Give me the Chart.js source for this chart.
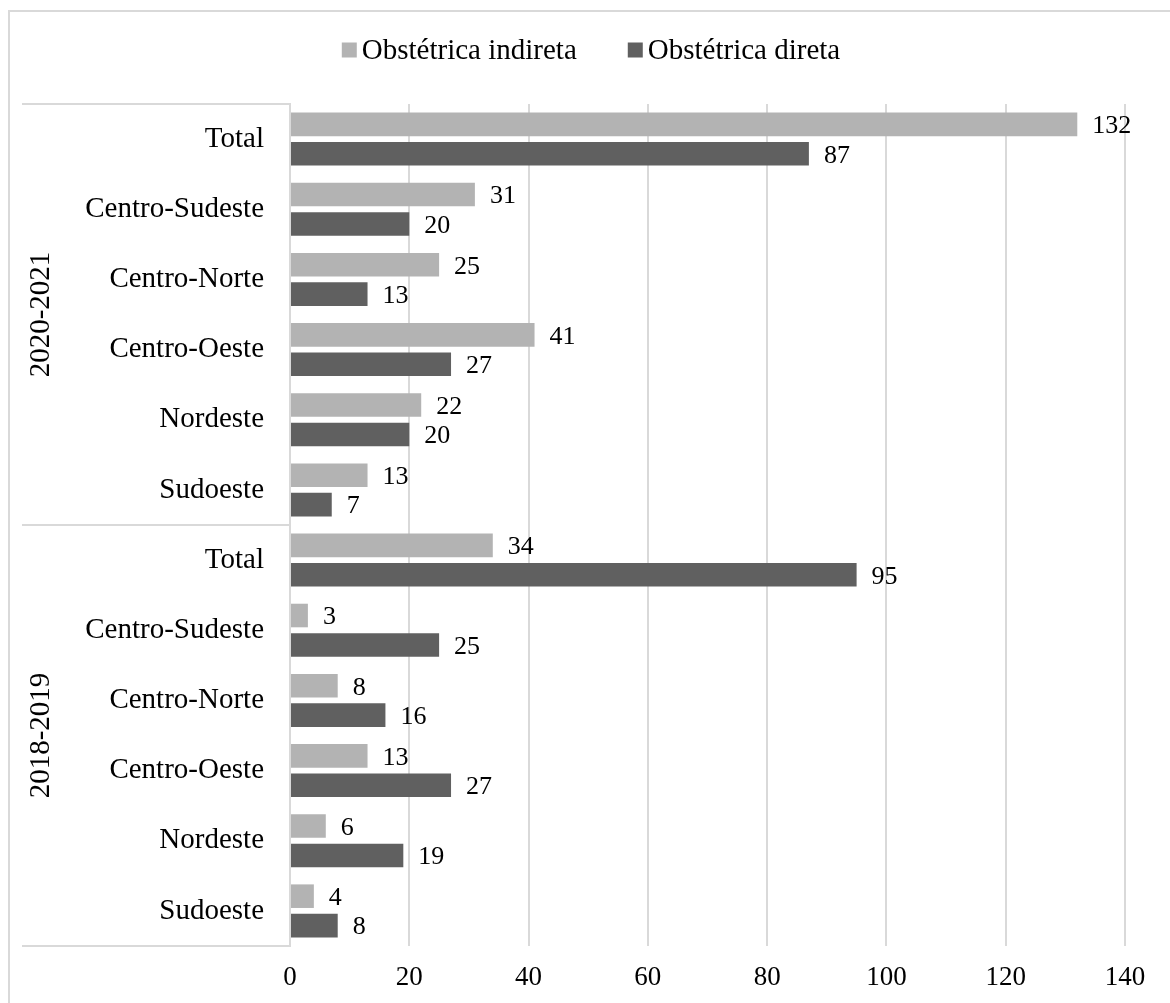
<!DOCTYPE html>
<html>
<head>
<meta charset="utf-8">
<script src="https://cdn.jsdelivr.net/npm/chart.js@4.4.1/dist/chart.umd.min.js"></script>
<style>
  html, body { margin: 0; padding: 0; background: #ffffff; }
  #wrap { width: 1170px; height: 1003px; position: relative; }
</style>
</head>
<body>
<div id="wrap"><canvas id="chart" width="1170" height="1003"></canvas></div>
<script>
// Periods, each holding the same list of regions (top to bottom)
const periods = ['2020-2021', '2018-2019'];
const regions = ['Total', 'Centro-Sudeste', 'Centro-Norte', 'Centro-Oeste', 'Nordeste', 'Sudoeste'];

// Deaths by cause type, in the same order as the category list
const indireta = [132, 31, 25, 41, 22, 13, 34, 3, 8, 13, 6, 4];
const direta   = [87, 20, 13, 27, 20, 7, 95, 25, 16, 27, 19, 8];

const seriesNames = ['Obstétrica indireta', 'Obstétrica direta'];
const xMin = 0, xMax = 140, xStep = 20;

const categories = periods.flatMap(() => regions);

const SERIF = '"Liberation Serif", "Times New Roman", Times, serif';
const LIGHT = '#b3b3b3';
const DARK = '#606060';
const LINE = '#d9d9d9';

// Outer frame (top and left edges) on a white background
const framePlugin = {
  id: 'frame',
  beforeDraw(chart) {
    const ctx = chart.ctx;
    ctx.save();
    ctx.fillStyle = '#ffffff';
    ctx.fillRect(0, 0, chart.width, chart.height);
    ctx.strokeStyle = LINE;
    ctx.lineWidth = 2;
    ctx.beginPath();
    ctx.moveTo(9, chart.height);
    ctx.lineTo(9, 11);
    ctx.lineTo(chart.width, 11);
    ctx.stroke();
    ctx.restore();
  }
};

// Period group boxes and rotated period names left of the region labels
const groupPlugin = {
  id: 'groups',
  afterDraw(chart) {
    const ctx = chart.ctx;
    const y = chart.scales.y;
    const area = chart.chartArea;
    const step = y.getPixelForValue(1) - y.getPixelForValue(0);
    const x0 = 22, x1 = area.left;
    ctx.save();
    ctx.strokeStyle = LINE;
    ctx.lineWidth = 2;
    periods.forEach((p, i) => {
      const first = i * regions.length;
      const last = first + regions.length - 1;
      const top = y.getPixelForValue(first) - step / 2;
      const bottom = y.getPixelForValue(last) + step / 2;
      ctx.beginPath();
      ctx.moveTo(x0, top);
      ctx.lineTo(x1, top);
      if (i === periods.length - 1) {
        ctx.moveTo(x0, bottom);
        ctx.lineTo(x1, bottom);
      }
      ctx.stroke();
      ctx.save();
      ctx.translate(41, (top + bottom) / 2);
      ctx.rotate(-Math.PI / 2);
      ctx.fillStyle = '#000000';
      ctx.font = '29px ' + SERIF;
      ctx.textAlign = 'center';
      ctx.textBaseline = 'middle';
      ctx.fillText(p, 0, 0);
      ctx.restore();
    });
    ctx.restore();
  }
};

// Value labels to the right of every bar
const valuePlugin = {
  id: 'values',
  afterDatasetsDraw(chart) {
    const ctx = chart.ctx;
    ctx.save();
    ctx.fillStyle = '#000000';
    ctx.font = '26px ' + SERIF;
    ctx.textAlign = 'left';
    ctx.textBaseline = 'middle';
    chart.data.datasets.forEach((ds, di) => {
      const meta = chart.getDatasetMeta(di);
      meta.data.forEach((bar, i) => {
        ctx.fillText(String(ds.data[i]), bar.x + 15, bar.y + 2);
      });
    });
    ctx.restore();
  }
};

// Legend row across the top
const legendPlugin = {
  id: 'topLegend',
  afterDraw(chart) {
    const ctx = chart.ctx;
    const box = 15, gapText = 5, gapItem = 51, cy = 50;
    ctx.save();
    ctx.font = '29px ' + SERIF;
    ctx.textBaseline = 'middle';
    ctx.textAlign = 'left';
    const widths = chart.data.datasets.map(ds => ctx.measureText(ds.label).width);
    let total = 0;
    widths.forEach((w, i) => { total += box + gapText + w + (i ? gapItem : 0); });
    let x = 591 - total / 2;
    chart.data.datasets.forEach((ds, i) => {
      ctx.fillStyle = ds.backgroundColor;
      ctx.fillRect(x, cy - box / 2, box, box);
      ctx.fillStyle = '#000000';
      ctx.fillText(ds.label, x + box + gapText, cy + 1);
      x += box + gapText + widths[i] + gapItem;
    });
    ctx.restore();
  }
};

new Chart(document.getElementById('chart'), {
  type: 'bar',
  data: {
    labels: categories,
    datasets: [
      { label: seriesNames[0], data: indireta, backgroundColor: LIGHT, borderWidth: 0,
        categoryPercentage: 0.84, barPercentage: 0.8 },
      { label: seriesNames[1], data: direta, backgroundColor: DARK, borderWidth: 0,
        categoryPercentage: 0.84, barPercentage: 0.8 }
    ]
  },
  options: {
    indexAxis: 'y',
    responsive: false,
    animation: false,
    devicePixelRatio: 1,
    layout: { padding: { top: 104, right: 45, bottom: 0, left: 0 } },
    plugins: {
      legend: { display: false },
      tooltip: { enabled: false }
    },
    scales: {
      x: {
        type: 'linear',
        min: xMin,
        max: xMax,
        ticks: {
          stepSize: xStep,
          color: '#000000',
          font: { family: SERIF, size: 27 },
          padding: 16
        },
        grid: { color: LINE, lineWidth: 2, drawTicks: false },
        border: { display: false },
        afterFit(scale) { scale.height = 57; }
      },
      y: {
        type: 'category',
        ticks: {
          color: '#000000',
          font: { family: SERIF, size: 29 },
          padding: 26,
          autoSkip: false
        },
        grid: { display: false, drawTicks: false },
        border: { display: true, color: LINE, width: 2 },
        afterFit(scale) { scale.width = 290; }
      }
    }
  },
  plugins: [framePlugin, groupPlugin, valuePlugin, legendPlugin]
});
</script>
</body>
</html>
